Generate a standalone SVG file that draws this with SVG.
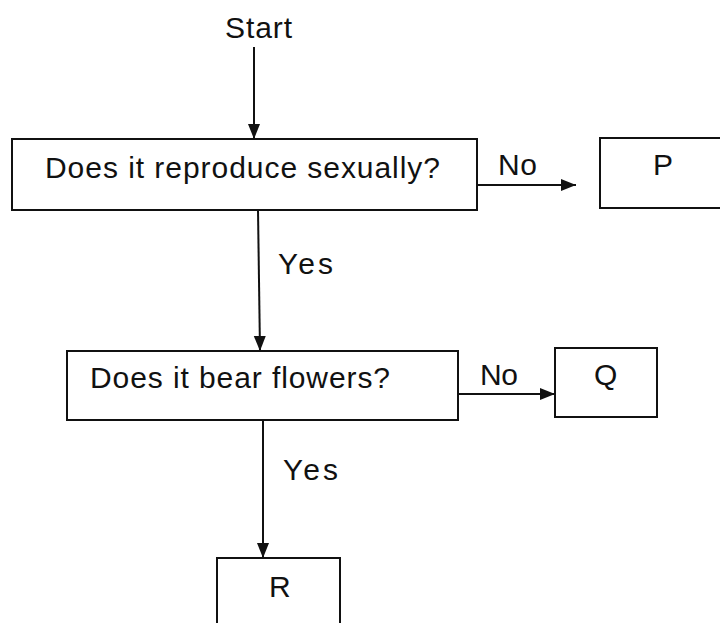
<svg xmlns="http://www.w3.org/2000/svg" width="720" height="623" viewBox="0 0 720 623">
<style>
.box{fill:#fff;stroke:#111;stroke-width:2}
.ln{fill:none;stroke:#111;stroke-width:2}
text{font-family:"Liberation Sans",Arial,sans-serif;font-size:30px;fill:#111}
</style>
<defs>
<marker id="ahl" viewBox="0 0 10 10" refX="10" refY="5" markerWidth="15" markerHeight="15" markerUnits="userSpaceOnUse" orient="auto">
<path d="M0,1 L10,5 L0,9 Z" fill="#111"/>
</marker>
</defs>
<g id="start"><text x="225" y="38" textLength="67">Start</text></g>
<g id="q1"><rect class="box" x="12" y="139" width="465" height="71"/><text x="45" y="178" textLength="395">Does it reproduce sexually?</text></g>
<g id="p"><rect class="box" x="600" y="138" width="130" height="70"/><text x="653" y="175">P</text></g>
<g id="q2"><rect class="box" x="67" y="351" width="391" height="69"/><text x="90" y="388" textLength="300">Does it bear flowers?</text></g>
<g id="qq"><rect class="box" x="555" y="348" width="102" height="69"/><text x="594" y="385">Q</text></g>
<g id="r"><rect class="box" x="217" y="558" width="123" height="80"/><text x="269" y="597">R</text></g>
<g id="connectors">
<line class="ln" x1="254" y1="47" x2="254" y2="139" marker-end="url(#ahl)"/>
<line class="ln" x1="477" y1="185" x2="576" y2="185" marker-end="url(#ahl)"/>
<text x="498" y="175" textLength="39">No</text>
<line class="ln" x1="258" y1="210" x2="260" y2="351" marker-end="url(#ahl)"/>
<text x="278" y="274" textLength="55">Yes</text>
<line class="ln" x1="458" y1="394" x2="555" y2="394" marker-end="url(#ahl)"/>
<text x="480" y="385" textLength="38">No</text>
<line class="ln" x1="263" y1="420" x2="263" y2="558" marker-end="url(#ahl)"/>
<text x="283" y="480" textLength="55">Yes</text>
</g>
</svg>
